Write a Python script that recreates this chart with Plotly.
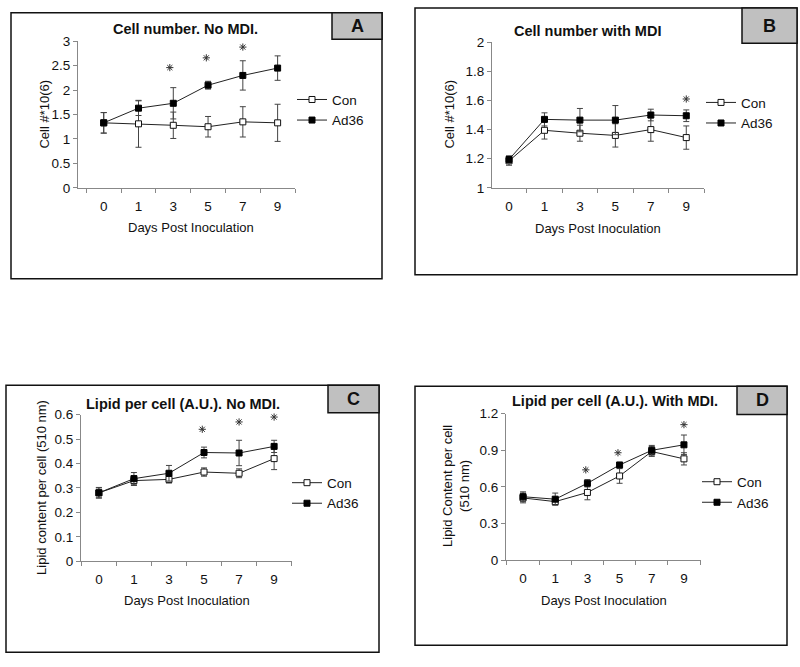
import plotly.graph_objects as go

W, H = 800, 667

days = ["0", "1", "3", "5", "7", "9"]
idx = [0, 1, 2, 3, 4, 5]

# Panel A: Cell number, no MDI
a_con = [1.33, 1.31, 1.28, 1.25, 1.35, 1.33]
a_con_err = [0.21, 0.48, 0.27, 0.21, 0.31, 0.38]
a_ad = [1.33, 1.63, 1.73, 2.10, 2.30, 2.45]
a_ad_err = [0.21, 0.15, 0.32, 0.08, 0.30, 0.25]
a_star_x = [1.9, 2.95, 4.0, 4.95]
a_star_y = [2.46, 2.66, 2.88, 3.08]

# Panel B: Cell number with MDI
b_con = [1.185, 1.395, 1.375, 1.36, 1.40, 1.345]
b_con_err = [0.03, 0.06, 0.055, 0.08, 0.08, 0.08]
b_ad = [1.195, 1.47, 1.465, 1.465, 1.50, 1.495]
b_ad_err = [0.025, 0.045, 0.08, 0.10, 0.04, 0.04]
b_star_x = [5.0]
b_star_y = [1.61]

# Panel C: Lipid per cell, no MDI
c_con = [0.28, 0.33, 0.335, 0.365, 0.36, 0.42]
c_con_err = [0.022, 0.02, 0.015, 0.017, 0.018, 0.045]
c_ad = [0.28, 0.338, 0.36, 0.445, 0.443, 0.47]
c_ad_err = [0.02, 0.025, 0.032, 0.022, 0.052, 0.025]
c_star_x = [2.95, 4.0, 5.0]
c_star_y = [0.54, 0.57, 0.59]

# Panel D: Lipid per cell, with MDI
d_con = [0.51, 0.48, 0.555, 0.69, 0.89, 0.83]
d_con_err = [0.04, 0.02, 0.06, 0.06, 0.04, 0.05]
d_ad = [0.52, 0.50, 0.63, 0.78, 0.90, 0.945]
d_ad_err = [0.04, 0.05, 0.03, 0.015, 0.04, 0.08]
d_star_x = [1.95, 2.95, 5.0]
d_star_y = [0.74, 0.88, 1.11]

FONT = "Liberation Sans, Arial, sans-serif"
TICK = 13.5

panels = [
    dict(key="A", con=a_con, cerr=a_con_err, ad=a_ad, aerr=a_ad_err, sx=a_star_x, sy=a_star_y,
         px=(78, 295), py=(35, 185), yr=[0, 3], dt=0.5, xr=[-0.74, 5.5],
         title="Cell number. No MDI.", tpos=(185, 22),
         ytitle="Cell #*10(6)", ytpos=(45, 110), xtpos=(191, 226),
         box=(11, 6, 382, 278), lbox=(332, 6, 382, 33), leg=(292, 79)),
    dict(key="B", con=b_con, cerr=b_con_err, ad=b_ad, aerr=b_ad_err, sx=b_star_x, sy=b_star_y,
         px=(492, 704), py=(36, 185), yr=[1, 2], dt=0.2, xr=[-0.48, 5.5],
         title="Cell number with MDI", tpos=(587, 25),
         ytitle="Cell #*10(6)", ytpos=(450, 110), xtpos=(598, 227),
         box=(415, 1, 797, 274), lbox=(742, 1, 797, 37), leg=(701, 82)),
    dict(key="C", con=c_con, cerr=c_con_err, ad=c_ad, aerr=c_ad_err, sx=c_star_x, sy=c_star_y,
         px=(81, 292), py=(417, 567), yr=[0, 0.6], dt=0.1, xr=[-0.51, 5.51],
         title="Lipid per cell (A.U.). No MDI.", tpos=(183, 406),
         ytitle="Lipid content per cell (510 nm)", ytpos=(42, 492), xtpos=(187, 607),
         box=(6, 387, 379, 660), lbox=(328, 387, 379, 415), leg=(287, 471)),
    dict(key="D", con=d_con, cerr=d_con_err, ad=d_ad, aerr=d_ad_err, sx=d_star_x, sy=d_star_y,
         px=(506, 701), py=(416, 566), yr=[0, 1.2], dt=0.3, xr=[-0.53, 5.53],
         title="Lipid per cell (A.U.). With MDI.", tpos=(615, 403),
         ytitle="Lipid Content per cell<br>(510 nm)", ytpos=(456, 490), xtpos=(604, 607),
         box=(415, 388, 787, 653), lbox=(737, 388, 787, 417), leg=(697, 470)),
]

fig = go.Figure()
shapes = []
annotations = []
layout_axes = {}

def px2x(v):
    return v / W

def py2y(v):
    return 1 - v / H

for i, p in enumerate(panels):
    n = "" if i == 0 else str(i + 1)
    xa, ya = "x" + n, "y" + n
    lg = "legend" + n
    common = dict(xaxis=xa, yaxis=ya, legend=lg, mode="lines+markers", cliponaxis=False)
    fig.add_trace(go.Scatter(
        x=idx, y=p["con"], name="Con",
        error_y=dict(type="data", array=p["cerr"], color="#444", thickness=1, width=3),
        line=dict(color="#222", width=1),
        marker=dict(symbol="square", size=6, color="white", line=dict(color="#111", width=1)),
        **common))
    fig.add_trace(go.Scatter(
        x=idx, y=p["ad"], name="Ad36",
        error_y=dict(type="data", array=p["aerr"], color="#444", thickness=1, width=3),
        line=dict(color="#222", width=1),
        marker=dict(symbol="square", size=6, color="black", line=dict(color="black", width=1)),
        **common))
    # significance asterisks
    fig.add_trace(go.Scatter(
        x=p["sx"], y=p["sy"], mode="markers", name="*",
        marker=dict(symbol="asterisk-open", size=6, color="#333",
                    line=dict(color="#333", width=1)),
        showlegend=False, xaxis=xa, yaxis=ya, cliponaxis=False, hoverinfo="skip"))

    layout_axes["xaxis" + n] = dict(
        domain=[px2x(p["px"][0]), px2x(p["px"][1])], anchor=ya, range=p["xr"],
        tickvals=idx, ticktext=days, ticks="", showgrid=False, zeroline=False,
        showline=True, linecolor="#888", linewidth=1, ticklabelstandoff=6,
        tickfont=dict(size=TICK, family=FONT, color="#111"),
        minor=dict(ticks="outside", tick0=0.5, dtick=1, ticklen=4, tickcolor="#888", showgrid=False),
        fixedrange=True)
    layout_axes["yaxis" + n] = dict(
        domain=[py2y(p["py"][1]), py2y(p["py"][0])], anchor=xa, range=p["yr"],
        dtick=p["dt"], tick0=p["yr"][0], ticks="outside", ticklen=4, tickcolor="#888",
        showgrid=False, zeroline=False, showline=True, linecolor="#888", linewidth=1,
        tickfont=dict(size=TICK, family=FONT, color="#111"), fixedrange=True)
    layout_axes[lg] = dict(
        x=px2x(p["leg"][0]), y=py2y(p["leg"][1]), xanchor="left", yanchor="top",
        bgcolor="rgba(0,0,0,0)", font=dict(size=TICK, family=FONT, color="#111"),
        itemwidth=30, tracegroupgap=0)

    bx0, by0, bx1, by1 = p["box"]
    shapes.append(dict(type="rect", xref="paper", yref="paper",
                       x0=px2x(bx0), x1=px2x(bx1), y0=py2y(by1), y1=py2y(by0),
                       line=dict(color="#111", width=1.5), fillcolor="rgba(0,0,0,0)"))
    lx0, ly0, lx1, ly1 = p["lbox"]
    shapes.append(dict(type="rect", xref="paper", yref="paper",
                       x0=px2x(lx0), x1=px2x(lx1), y0=py2y(ly1), y1=py2y(ly0),
                       line=dict(color="#111", width=1.5), fillcolor="#c0c0c0"))
    annotations.append(dict(text="<b>%s</b>" % p["key"], xref="paper", yref="paper",
                            x=px2x((lx0 + lx1) / 2), y=py2y((ly0 + ly1) / 2),
                            xanchor="center", yanchor="middle", showarrow=False,
                            font=dict(size=18, family=FONT, color="#111")))
    annotations.append(dict(text="<b>%s</b>" % p["title"], xref="paper", yref="paper",
                            x=px2x(p["tpos"][0]), y=py2y(p["tpos"][1]),
                            xanchor="center", yanchor="middle", showarrow=False,
                            font=dict(size=14.5, family=FONT, color="#111")))
    annotations.append(dict(text=p["ytitle"], xref="paper", yref="paper",
                            x=px2x(p["ytpos"][0]), y=py2y(p["ytpos"][1]), textangle=-90,
                            xanchor="center", yanchor="middle", showarrow=False,
                            font=dict(size=13, family=FONT, color="#111")))
    annotations.append(dict(text="Days Post Inoculation", xref="paper", yref="paper",
                            x=px2x(p["xtpos"][0]), y=py2y(p["xtpos"][1]),
                            xanchor="center", yanchor="middle", showarrow=False,
                            font=dict(size=13, family=FONT, color="#111")))

fig.update_layout(
    width=W, height=H, margin=dict(l=0, r=0, t=0, b=0),
    paper_bgcolor="white", plot_bgcolor="white",
    font=dict(family=FONT, color="#111"),
    shapes=shapes, annotations=annotations, **layout_axes)

post = ("document.body.style.margin='0';"
        "var gd=document.getElementById('{plot_id}');"
        "gd.style.position='absolute';gd.style.top='0px';gd.style.left='0px';")
fig.write_html("out.html", post_script=post, config={"displayModeBar": False})
